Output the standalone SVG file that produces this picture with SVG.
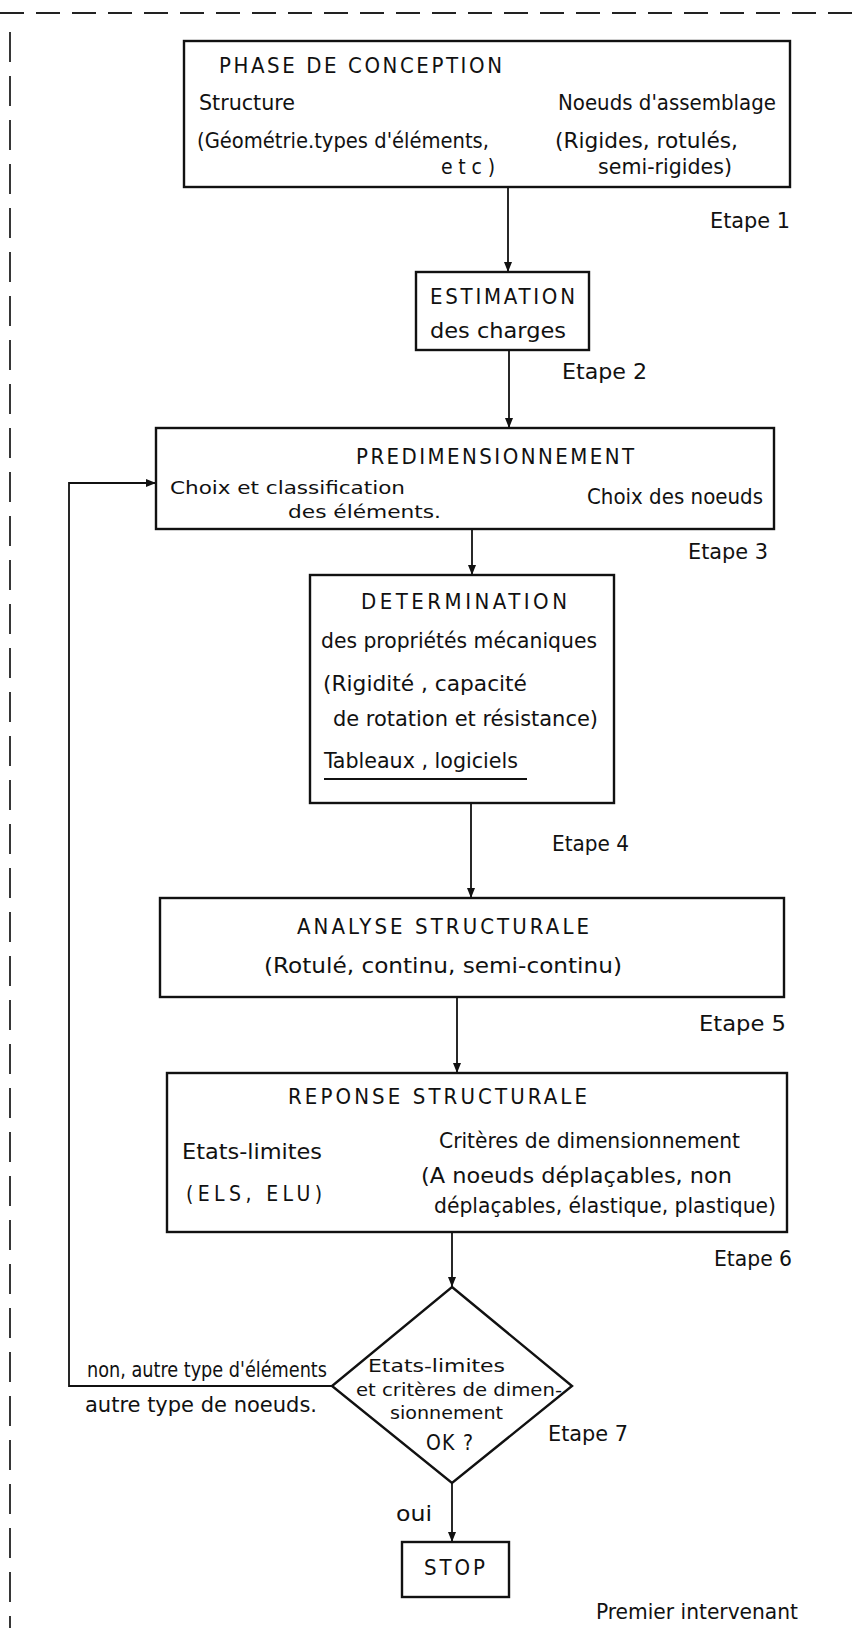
<svg xmlns="http://www.w3.org/2000/svg" width="853" height="1628" viewBox="0 0 853 1628">
<defs>
<marker id="arr" markerUnits="userSpaceOnUse" markerWidth="10" markerHeight="14" refX="10" refY="4" orient="auto">
<path d="M0,0 L10,4 L0,8 Z" fill="#111"/>
</marker>
<style>
.box{fill:#fff;stroke:#111;stroke-width:2.4}
.t{font-family:"DejaVu Sans Condensed","Liberation Sans Narrow","Liberation Sans",sans-serif;font-size:21px;fill:#111}
.h{font-size:22px}
.s{font-size:18px}
.c{fill:none;stroke:#111;stroke-width:1.8}
.frame{fill:none;stroke:#222;stroke-width:1.8}
</style>
</defs>
<rect width="853" height="1628" fill="#fff"/>
<g id="frame">
<line class="frame" x1="0" y1="13" x2="853" y2="13" stroke-dasharray="24 12"/>
<line class="frame" x1="10" y1="32" x2="10" y2="1628" stroke-dasharray="30 14"/>
</g>
<g id="connectors">
<line class="c" x1="508" y1="187" x2="508" y2="272" marker-end="url(#arr)"/>
<line class="c" x1="509" y1="350" x2="509" y2="428" marker-end="url(#arr)"/>
<line class="c" x1="472" y1="529" x2="472" y2="575" marker-end="url(#arr)"/>
<line class="c" x1="471" y1="803" x2="471" y2="898" marker-end="url(#arr)"/>
<line class="c" x1="457" y1="997" x2="457" y2="1073" marker-end="url(#arr)"/>
<line class="c" x1="452" y1="1232" x2="452" y2="1287" marker-end="url(#arr)"/>
<line class="c" x1="452" y1="1483" x2="452" y2="1542" marker-end="url(#arr)"/>
<polyline class="c" points="332,1386 69,1386 69,483 156,483" marker-end="url(#arr)"/>
</g>
<g id="n1">
<rect class="box" x="184" y="41" width="606" height="146"/>
<text class="t h" x="219" y="73" textLength="283" lengthAdjust="spacing">PHASE DE CONCEPTION</text>
<text class="t" x="199" y="110" textLength="96" lengthAdjust="spacingAndGlyphs">Structure</text>
<text class="t" x="558" y="110" textLength="218" lengthAdjust="spacingAndGlyphs">Noeuds d'assemblage</text>
<text class="t" x="197" y="148" textLength="292" lengthAdjust="spacingAndGlyphs">(Géométrie.types d'éléments,</text>
<text class="t" x="555" y="148" textLength="183" lengthAdjust="spacingAndGlyphs">(Rigides, rotulés,</text>
<text class="t" x="441" y="174" textLength="54" lengthAdjust="spacing">etc)</text>
<text class="t" x="598" y="174" textLength="134" lengthAdjust="spacingAndGlyphs">semi-rigides)</text>
</g>
<g id="etape1"><text class="t" x="710" y="228" textLength="80" lengthAdjust="spacingAndGlyphs">Etape 1</text></g>
<g id="n2">
<rect class="box" x="416" y="272" width="173" height="78"/>
<text class="t h" x="430" y="304" textLength="145" lengthAdjust="spacing">ESTIMATION</text>
<text class="t" x="430" y="338" textLength="136" lengthAdjust="spacingAndGlyphs">des charges</text>
</g>
<g id="etape2"><text class="t" x="562" y="379" textLength="85" lengthAdjust="spacingAndGlyphs">Etape 2</text></g>
<g id="n3">
<rect class="box" x="156" y="428" width="618" height="101"/>
<text class="t h" x="356" y="464" textLength="278" lengthAdjust="spacing">PREDIMENSIONNEMENT</text>
<text class="t s" x="170" y="494" textLength="235" lengthAdjust="spacingAndGlyphs">Choix et classification</text>
<text class="t s" x="288" y="518" textLength="153" lengthAdjust="spacingAndGlyphs">des éléments.</text>
<text class="t" x="587" y="504" textLength="176" lengthAdjust="spacingAndGlyphs">Choix des noeuds</text>
</g>
<g id="etape3"><text class="t" x="688" y="559" textLength="80" lengthAdjust="spacingAndGlyphs">Etape 3</text></g>
<g id="n4">
<rect class="box" x="310" y="575" width="304" height="228"/>
<text class="t h" x="361" y="609" textLength="206" lengthAdjust="spacing">DETERMINATION</text>
<text class="t" x="321" y="648" textLength="276" lengthAdjust="spacingAndGlyphs">des propriétés mécaniques</text>
<text class="t" x="323" y="691" textLength="204" lengthAdjust="spacingAndGlyphs">(Rigidité , capacité</text>
<text class="t" x="333" y="726" textLength="265" lengthAdjust="spacingAndGlyphs">de rotation et résistance)</text>
<text class="t" x="324" y="768" textLength="194" lengthAdjust="spacingAndGlyphs">Tableaux , logiciels</text>
<line x1="324" y1="779" x2="527" y2="779" stroke="#111" stroke-width="1.8"/>
</g>
<g id="etape4"><text class="t" x="552" y="851" textLength="77" lengthAdjust="spacingAndGlyphs">Etape 4</text></g>
<g id="n5">
<rect class="box" x="160" y="898" width="624" height="99"/>
<text class="t h" x="297" y="934" textLength="292" lengthAdjust="spacing">ANALYSE  STRUCTURALE</text>
<text class="t" x="264" y="973" textLength="358" lengthAdjust="spacingAndGlyphs">(Rotulé, continu, semi-continu)</text>
</g>
<g id="etape5"><text class="t" x="699" y="1031" textLength="87" lengthAdjust="spacingAndGlyphs">Etape 5</text></g>
<g id="n6">
<rect class="box" x="167" y="1073" width="620" height="159"/>
<text class="t h" x="288" y="1104" textLength="299" lengthAdjust="spacing">REPONSE STRUCTURALE</text>
<text class="t" x="439" y="1148" textLength="301" lengthAdjust="spacingAndGlyphs">Critères de dimensionnement</text>
<text class="t" x="182" y="1159" textLength="140" lengthAdjust="spacingAndGlyphs">Etats-limites</text>
<text class="t" x="421" y="1183" textLength="311" lengthAdjust="spacingAndGlyphs">(A noeuds déplaçables, non</text>
<text class="t" x="186" y="1201" textLength="136" lengthAdjust="spacing">(ELS, ELU)</text>
<text class="t" x="434" y="1213" textLength="342" lengthAdjust="spacingAndGlyphs">déplaçables, élastique, plastique)</text>
</g>
<g id="etape6"><text class="t" x="714" y="1266" textLength="78" lengthAdjust="spacingAndGlyphs">Etape 6</text></g>
<g id="n7">
<polygon class="box" points="452,1287 572,1386 452,1483 332,1386"/>
<text class="t s" x="368" y="1372" textLength="137" lengthAdjust="spacingAndGlyphs">Etats-limites</text>
<text class="t s" x="356" y="1396" textLength="206" lengthAdjust="spacingAndGlyphs">et critères de dimen-</text>
<text class="t s" x="390" y="1419" textLength="113" lengthAdjust="spacingAndGlyphs">sionnement</text>
<text class="t" x="426" y="1450" textLength="47" lengthAdjust="spacing">OK ?</text>
</g>
<g id="etape7"><text class="t" x="548" y="1441" textLength="80" lengthAdjust="spacingAndGlyphs">Etape 7</text></g>
<g id="labels">
<text class="t" x="87" y="1377" textLength="240" lengthAdjust="spacingAndGlyphs">non, autre type d'éléments</text>
<text class="t" x="85" y="1412" textLength="232" lengthAdjust="spacingAndGlyphs">autre type de noeuds.</text>
<text class="t" x="396" y="1521" textLength="36" lengthAdjust="spacingAndGlyphs">oui</text>
</g>
<g id="n8">
<rect class="box" x="402" y="1542" width="107" height="55"/>
<text class="t h" x="424" y="1575" textLength="61" lengthAdjust="spacing">STOP</text>
</g>
<g id="footer"><text class="t" x="596" y="1619" textLength="202" lengthAdjust="spacingAndGlyphs">Premier intervenant</text></g>
</svg>
